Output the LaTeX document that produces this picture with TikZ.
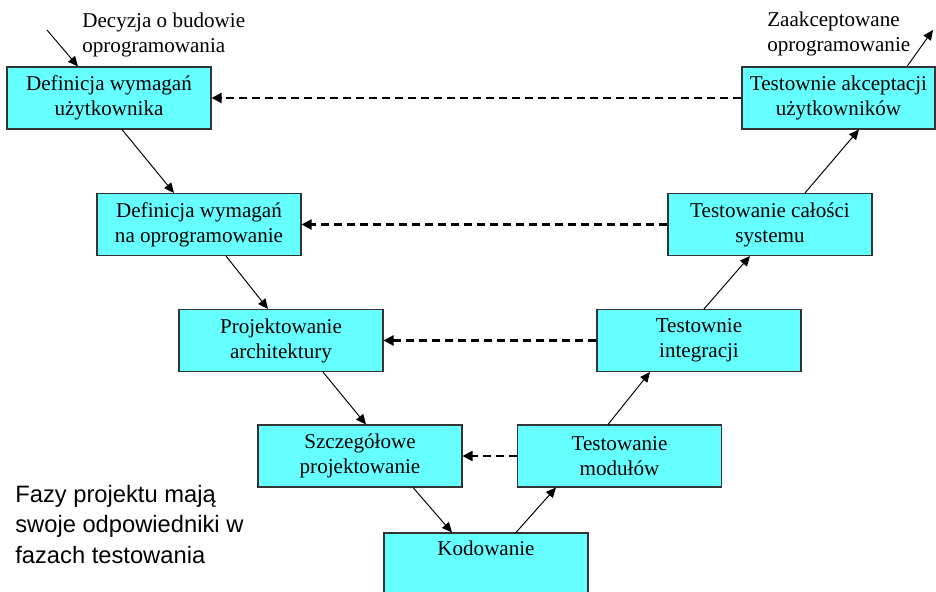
\documentclass[tikz,border=0pt]{standalone}
\usepackage{fontspec}
\setmainfont{Liberation Serif}
\newfontfamily\opisfont{Liberation Sans}
\usetikzlibrary{arrows.meta}
\definecolor{cyjan}{RGB}{102,255,255}
\tikzset{
  faza/.style={draw=black!80, fill=cyjan, line width=0.6pt, minimum width=4.08cm,
    minimum height=1.24cm, align=center, inner sep=0pt, font=\fontsize{12}{14.2}\selectfont},
  etykieta/.style={anchor=north west, align=left, inner sep=0pt, font=\fontsize{12}{14.2}\selectfont},
  strzalka/.style={line width=0.55pt, -{Triangle[length=0.2cm,width=0.18cm]}},
  powrot/.style={line width=1.25pt, dash pattern=on 0.16cm off 0.1cm, -{Triangle[length=0.2cm,width=0.2cm]}}
}
\begin{document}
\begin{tikzpicture}
  \useasboundingbox (0,0) rectangle (18.72,11.82);

  \node[faza] (wymUz) at (2.18,9.86) {Definicja wymagań\\użytkownika};
  \node[faza] (wymOpr) at (3.98,7.33) {Definicja wymagań\\na oprogramowanie};
  \node[faza] (archit) at (5.62,5.01) {Projektowanie\\architektury};
  \node[faza] (szczeg) at (7.20,2.70) {Szczegółowe\\projektowanie};
  \node[faza] (kodow) at (9.72,0.54) {Kodowanie\\\strut};
  \node[faza] (testMod) at (12.39,2.70) {Testowanie\\modułów};
  \node[faza] (testInt) at (13.98,5.01) {Testownie\\integracji};
  \node[faza] (testSys) at (15.40,7.33) {Testowanie całości\\systemu};
  \node[faza, minimum width=3.86cm] (testAkc) at (16.77,9.86) {Testownie akceptacji\\użytkowników};

  \node[etykieta] (decyzjaTxt) at (1.64,11.57) {Decyzja o budowie\\oprogramowania};
  \node[etykieta] (wynikTxt) at (15.34,11.59) {Zaakceptowane\\oprogramowanie};
  \node[etykieta, font=\opisfont\fontsize{13.5}{17.4}\selectfont] (uwaga) at (0.30,2.13)
    {Fazy projektu mają\\swoje odpowiedniki w\\fazach testowania};

  \coordinate (decyzja) at (0.94,11.22);
  \coordinate (wynik) at (18.66,11.22);

  \draw[strzalka] (decyzja) -- ([xshift=-0.62cm]wymUz.north);
  \draw[strzalka] ([xshift=0.26cm]wymUz.south) -- ([xshift=-0.50cm]wymOpr.north);
  \draw[strzalka] ([xshift=0.54cm]wymOpr.south) -- ([xshift=-0.26cm]archit.north);
  \draw[strzalka] ([xshift=0.84cm]archit.south) -- ([xshift=0.12cm]szczeg.north);
  \draw[strzalka] ([xshift=1.06cm]szczeg.south) -- ([xshift=-0.68cm]kodow.north);
  \draw[strzalka] ([xshift=0.60cm]kodow.north) -- ([xshift=-1.27cm]testMod.south);
  \draw[strzalka] ([xshift=-0.23cm]testMod.north) -- ([xshift=-0.98cm]testInt.south);
  \draw[strzalka] ([xshift=0.10cm]testInt.north) -- ([xshift=-0.40cm]testSys.south);
  \draw[strzalka] ([xshift=0.70cm]testSys.north) -- ([xshift=0.41cm]testAkc.south);
  \draw[strzalka] ([xshift=1.37cm]testAkc.north) -- (wynik);

  \draw[powrot] (testAkc.west) -- (wymUz.east);
  \draw[powrot] (testSys.west) -- (wymOpr.east);
  \draw[powrot] (testInt.west) -- (archit.east);
  \draw[powrot] (testMod.west) -- (szczeg.east);
\end{tikzpicture}
\end{document}
